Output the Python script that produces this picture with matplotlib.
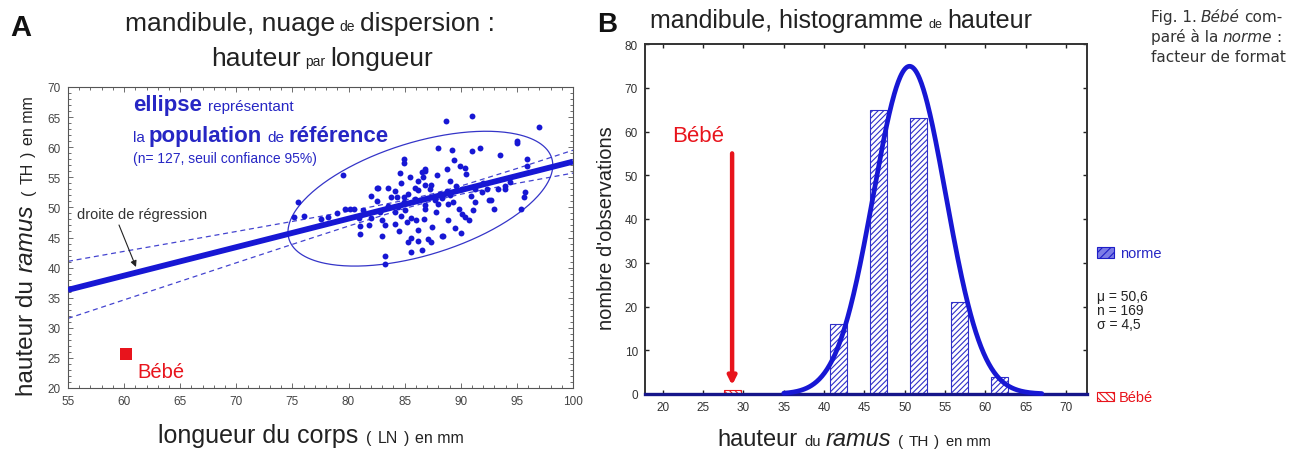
import numpy as np
import matplotlib
matplotlib.use('Agg')
import matplotlib.pyplot as plt
from matplotlib.patches import Rectangle
from matplotlib.ticker import MultipleLocator

plt.rcParams['font.family'] = ['Liberation Sans', 'DejaVu Sans']
plt.rcParams['hatch.linewidth'] = 0.8

# ---------------- data ----------------
# Panel A : scatter (body length LN vs ramus height TH), n = 127
length_ln = [75.5, 75.1, 76.0, 78.2, 79.5, 79.7, 80.1, 80.5, 81.0, 81.8,
             82.0, 82.5, 82.5, 82.6, 83.5, 83.8, 84.3, 84.9, 82.95, 83.25,
             84.15, 83.25, 83.25, 85.6, 85.6, 86.2, 86.2, 86.7, 85.6, 84.7,
             84.1, 84.9, 85.9, 85.3, 86.2, 84.9, 84.9, 84.6, 86.5, 86.8,
             86.6, 86.2, 84.7, 86.8, 87.3, 88.75, 90.1, 91.3, 92.3, 93.35,
             93.9, 95.7, 95.6, 95.4, 92.5, 91.3, 91.1, 90.1, 90.4, 90.7,
             89.8, 89.3, 88.9, 87.4, 88.45, 87.1, 87.35, 88.15, 86.8, 86.8,
             88.7, 91.0, 97.0, 88.0, 89.25, 91.0, 91.7, 93.5, 95.0, 95.0,
             89.4, 89.9, 90.4, 90.45, 88.75, 95.9, 95.9, 87.35, 86.8, 93.9,
             92.7, 88.3, 87.7, 88.3, 89.0, 85.0, 83.5, 82.8, 81.3, 80.9,
             84.5, 85.2, 86.0, 87.8, 88.9, 90.9, 91.9, 89.6, 85.9, 84.1,
             83.0, 81.0, 79.0, 77.5, 85.5, 87.9, 89.0, 92.0, 94.4, 90.0,
             89.5, 86.5, 85.3, 93.0, 88.0, 84.4, 82.0]
height_th = [50.85, 48.35, 48.5, 48.45, 55.4, 49.7, 49.7, 49.7, 45.6, 47.0,
             48.2, 51.1, 53.3, 53.3, 53.2, 51.8, 51.8, 51.8, 45.3, 47.0,
             47.3, 42.0, 40.6, 42.6, 45.0, 44.5, 46.2, 48.1, 48.3, 48.6,
             49.2, 50.85, 51.4, 52.2, 52.9, 58.0, 57.3, 55.7, 55.8, 56.4,
             55.0, 54.4, 54.0, 53.7, 53.1, 52.8, 53.1, 53.1, 53.1, 53.1,
             53.6, 52.5, 51.8, 49.7, 51.2, 50.85, 49.6, 48.9, 48.35, 47.9,
             49.7, 50.85, 47.9, 46.8, 45.3, 44.75, 44.2, 52.2, 50.4, 49.7,
             64.3, 65.2, 63.3, 59.8, 59.6, 59.3, 59.9, 58.75, 60.7, 61.1,
             57.9, 56.9, 56.5, 55.5, 56.4, 58.0, 56.9, 53.8, 56.1, 53.0,
             51.3, 45.2, 51.2, 51.6, 52.0, 49.5, 50.2, 49.3, 49.5, 48.2,
             46.0, 47.5, 47.9, 49.2, 50.5, 51.9, 52.5, 53.6, 53.3, 52.8,
             47.9, 46.9, 49.0, 48.0, 55.0, 55.3, 54.4, 54.0, 54.3, 45.8,
             46.5, 42.9, 44.3, 49.8, 50.6, 50.1, 51.9]

# regression line and its 95% confidence band
band_x     = [55, 60, 65, 70, 75, 80, 85, 87.5, 90, 95, 100]
reg_y      = [36.3, 38.67, 41.03, 43.4, 45.77, 48.13, 50.5, 51.68, 52.87, 55.23, 57.6]
band_upper = [41.04, 42.70, 44.34, 46.0, 47.67, 49.36, 51.18, 52.26, 53.55, 56.46, 59.5]
band_lower = [31.56, 34.64, 37.72, 40.8, 43.87, 46.9, 49.82, 51.10, 52.19, 54.0, 55.7]

# 95% ellipse: centre and covariance-like matrix
ell_center = (86.4, 51.45)
ell_sxx, ell_syy, ell_sxy = 139.2, 125.4, 65.5

bebe_ln, bebe_th = 60.2, 25.6

# Panel B : histogram of ramus height
hist_centers = [41.75, 46.75, 51.75, 56.75, 61.75]
hist_counts = [16, 65, 63, 21, 4]
bin_width = 5
bebe_hist_x, bebe_hist_count = 28.65, 1
norm_mu, norm_n, norm_sigma = 50.6, 169, 4.5

x_ticks_a = list(range(55, 101, 5))
y_ticks_a = list(range(20, 71, 5))
x_ticks_b = list(range(20, 71, 5))
y_ticks_b = list(range(0, 81, 10))

# ---------------- figure ----------------
W, H = 1306, 452
fig = plt.figure(figsize=(W / 100, H / 100), dpi=100)
renderer = fig.canvas.get_renderer()

BLUE = '#1717d4'
TBLUE = '#2626c4'
RED = '#e8141c'
DARK = '#222222'


def fx(px):
    return px / W


def fy(py):
    return 1 - py / H


def rich(pieces, x, y, rotation=0, align='left'):
    """pieces: list of (text, kwargs, gap_after_px). x,y in top-origin pixels."""
    objs = []
    total = 0
    for s, kw, gap in pieces:
        t = fig.text(0, 0, s, **kw)
        w = t.get_window_extent(renderer).width
        objs.append((t, w, gap))
        total += w + gap
    total -= pieces[-1][2]
    pos = -total / 2 if align == 'center' else 0
    for t, w, gap in objs:
        t.set_ha('left')
        t.set_va('baseline')
        if rotation == 0:
            t.set_position((fx(x + pos), fy(y)))
        else:
            t.set_rotation(90)
            t.set_rotation_mode('anchor')
            t.set_position((fx(x), fy(y - pos)))
        pos += w + gap


# ---------- Panel A ----------
ax1 = fig.add_axes([fx(68), fy(389), (573 - 68) / W, (389 - 88) / H])
ax1.set_xlim(55, 100)
ax1.set_ylim(20, 70)
ax1.set_xticks(x_ticks_a)
ax1.set_yticks(y_ticks_a)
ax1.xaxis.set_minor_locator(MultipleLocator(1))
ax1.yaxis.set_minor_locator(MultipleLocator(1))
ax1.tick_params(which='both', direction='in', top=True, right=True,
                width=0.6, color='#555555', labelsize=8.5, labelcolor='#444444')
ax1.tick_params(which='major', length=3.5, pad=5)
ax1.tick_params(which='minor', length=2)
for s in ax1.spines.values():
    s.set_color('#555555')
    s.set_linewidth(0.8)

ax1.plot(band_x, band_upper, color='#4444d0', lw=0.9, ls=(0, (4, 3)), zorder=2)
ax1.plot(band_x, band_lower, color='#4444d0', lw=0.9, ls=(0, (4, 3)), zorder=2)
ax1.plot([band_x[0], band_x[-1]], [reg_y[0], reg_y[-1]], color=BLUE, lw=4.2,
         solid_capstyle='butt', zorder=3)

S = np.array([[ell_sxx, ell_sxy], [ell_sxy, ell_syy]])
L = np.linalg.cholesky(S)
tt = np.linspace(0, 2 * np.pi, 300)
ep = L @ np.vstack([np.cos(tt), np.sin(tt)])
ax1.plot(ell_center[0] + ep[0], ell_center[1] + ep[1], color='#3535c8', lw=0.9, zorder=2)

ax1.scatter(length_ln, height_th, s=18, color=BLUE, marker='o', lw=0, zorder=4)
ax1.scatter([bebe_ln], [bebe_th], s=70, color=RED, marker='s', lw=0, zorder=4)

# texts panel A
fig.text(fx(10), fy(36), 'A', fontsize=21, fontweight='bold', va='baseline', color='#111111')
rich([('mandibule, nuage', dict(fontsize=19, color=DARK), 5),
      ('de', dict(fontsize=10, color=DARK), 5),
      ('dispersion :', dict(fontsize=19, color=DARK), 0)], 310, 31, align='center')
rich([('hauteur', dict(fontsize=19, color=DARK), 5),
      ('par', dict(fontsize=10, color=DARK), 5),
      ('longueur', dict(fontsize=19, color=DARK), 0)], 322, 66, align='center')

rich([('ellipse', dict(fontsize=16, color=TBLUE, fontweight='bold'), 6),
      ('représentant', dict(fontsize=11, color=TBLUE), 0)], 133, 111)
rich([('la', dict(fontsize=11, color=TBLUE), 4),
      ('population', dict(fontsize=16, color=TBLUE, fontweight='bold'), 5),
      ('de', dict(fontsize=11, color=TBLUE), 4),
      ('référence', dict(fontsize=16, color=TBLUE, fontweight='bold'), 0)], 133, 142)
fig.text(fx(133), fy(163), '(n= 127, seuil confiance 95%)', fontsize=10,
         color=TBLUE, va='baseline')

fig.text(fx(77), fy(219), 'droite de régression', fontsize=10.5, color='#333333',
         va='baseline')
ax1.annotate('', xy=(136, H - 268), xytext=(119, H - 226), xycoords='figure pixels',
             arrowprops=dict(arrowstyle='-|>', color=DARK, lw=0.8,
                             mutation_scale=9, shrinkA=0, shrinkB=0))
fig.text(fx(137), fy(378), 'Bébé', fontsize=14.5, color=RED, va='baseline')

rich([('longueur du corps', dict(fontsize=18, color=DARK), 8),
      ('(', dict(fontsize=11.5, color=DARK), 6),
      ('LN', dict(fontsize=11.5, color=DARK), 6),
      (')', dict(fontsize=11.5, color=DARK), 6),
      ('en mm', dict(fontsize=11.5, color=DARK), 0)], 311, 443, align='center')
rich([('hauteur du', dict(fontsize=17.5, color=DARK), 8),
      ('ramus', dict(fontsize=17.5, color=DARK, style='italic'), 9),
      ('(', dict(fontsize=11.5, color=DARK), 6),
      ('TH', dict(fontsize=11.5, color=DARK), 6),
      (')', dict(fontsize=11.5, color=DARK), 6),
      ('en mm', dict(fontsize=11.5, color=DARK), 0)], 33, 246, rotation=90,
     align='center')

# ---------- Panel B ----------
ax2 = fig.add_axes([fx(645), fy(395), (1087 - 645) / W, (395 - 45) / H])
ax2.set_xlim(17.8, 72.6)
ax2.set_ylim(0, 80)
ax2.set_xticks(x_ticks_b)
ax2.set_yticks(y_ticks_b)
ax2.tick_params(direction='in', top=True, right=True, length=3, width=1,
                color=DARK, labelsize=8.5, labelcolor='#333333', pad=5)
for k, s in ax2.spines.items():
    s.set_color('#333333')
    s.set_linewidth(1.4)
ax2.spines['bottom'].set_color('#16168a')
ax2.spines['bottom'].set_linewidth(2.4)

ax2.bar(hist_centers, hist_counts, width=2.1, facecolor='white', edgecolor='#3030c8',
        hatch='//////', lw=0.8, zorder=2)
ax2.bar([bebe_hist_x], [bebe_hist_count], width=2.1, facecolor='white', edgecolor=RED,
        hatch='\\\\\\\\\\\\', lw=0.8, zorder=2)
xs = np.linspace(35, 67, 400)
ys = norm_n * bin_width / (norm_sigma * np.sqrt(2 * np.pi)) * np.exp(-0.5 * ((xs - norm_mu) / norm_sigma) ** 2)
ax2.plot(xs, ys, color=BLUE, lw=3.4, zorder=3, clip_on=False, solid_capstyle='round')

ax2.annotate('', xy=(bebe_hist_x - 0.05, 2.0), xytext=(bebe_hist_x - 0.05, 55),
             arrowprops=dict(arrowstyle='-|>', color=RED, lw=3.2, mutation_scale=12,
                             shrinkA=0, shrinkB=0), zorder=5)
ax2.text(21.2, 57.8, 'Bébé', fontsize=16, color=RED, va='baseline')

fig.text(fx(597), fy(32), 'B', fontsize=20, fontweight='bold', va='baseline', color='#111111')
rich([('mandibule, histogramme', dict(fontsize=18, color=DARK), 5),
      ('de', dict(fontsize=9, color=DARK), 5),
      ('hauteur', dict(fontsize=18, color=DARK), 0)], 650, 28)
fig.text(fx(612), fy(228), "nombre d'observations", fontsize=14.5, color=DARK,
         rotation=90, rotation_mode='anchor', ha='center', va='baseline')
rich([('hauteur', dict(fontsize=17, color=DARK), 7),
      ('du', dict(fontsize=10.5, color=DARK), 5),
      ('ramus', dict(fontsize=17, color=DARK, style='italic'), 7),
      ('(', dict(fontsize=11, color=DARK), 5),
      ('TH', dict(fontsize=11, color=DARK), 5),
      (')', dict(fontsize=11, color=DARK), 7),
      ('en mm', dict(fontsize=10.5, color=DARK), 0)], 854, 446, align='center')

# legend at right
fig.add_artist(Rectangle((fx(1097), fy(259)), 17 / W, 11 / H, transform=fig.transFigure,
                         facecolor='#7c7ce6', edgecolor='#1e1ec8', hatch='////', lw=0.8))
fig.text(fx(1120), fy(258), 'norme', fontsize=10.5, color=TBLUE, va='baseline')
for i, s in enumerate(['μ = 50,6', 'n = 169', 'σ = 4,5']):
    fig.text(fx(1097), fy(301 + 14 * i), s, fontsize=10, color=DARK, va='baseline')
fig.add_artist(Rectangle((fx(1097), fy(402)), 17 / W, 9 / H, transform=fig.transFigure,
                         facecolor='white', edgecolor=RED, hatch='\\\\\\\\\\', lw=0.8))
fig.text(fx(1119), fy(402), 'Bébé', fontsize=10.5, color=RED, va='baseline')

# caption
cap = dict(fontsize=11, color='#333333', family='DejaVu Sans')
capi = dict(fontsize=11, color='#333333', family='DejaVu Sans', style='italic')
rich([('Fig. 1.', cap, 4), ('Bébé', capi, 4), ('com-', cap, 0)], 1151, 22)
rich([('paré à la', cap, 4), ('norme', capi, 4), (':', cap, 0)], 1151, 42)
rich([('facteur de format', cap, 0)], 1151, 62)

fig.savefig('out.png', dpi=100)
